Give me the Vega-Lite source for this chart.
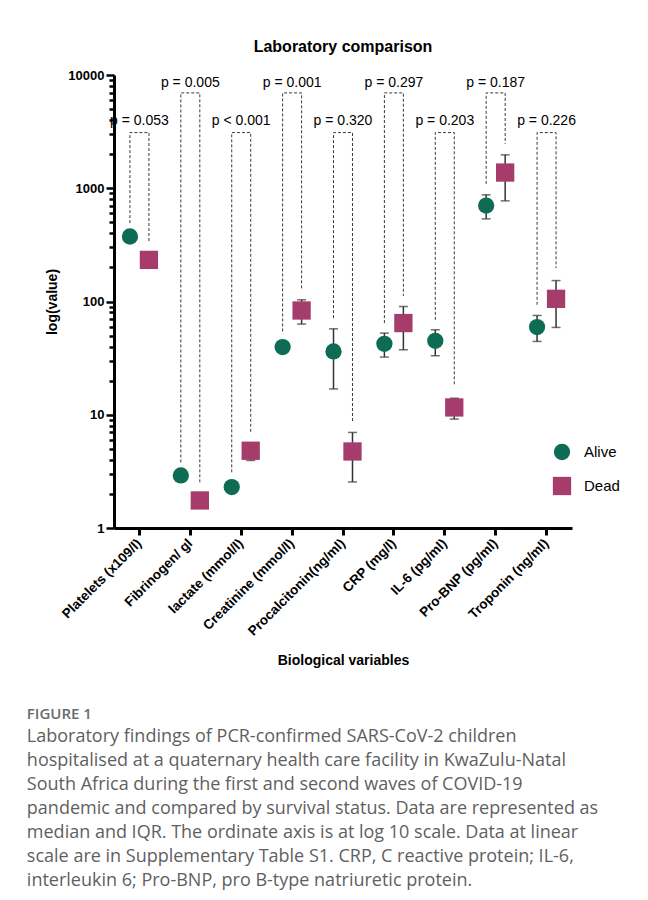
{
  "$schema": "https://vega.github.io/schema/vega-lite/v6.json",
  "padding": {"left": 26, "top": 39, "right": 5, "bottom": 5},
  "background": "white",
  "config": {"view": {"stroke": null}, "font": "Liberation Sans"},
  "title": {
    "text": "FIGURE 1",
    "subtitle": [
      "Laboratory findings of PCR-confirmed SARS-CoV-2 children",
      "hospitalised at a quaternary health care facility in KwaZulu-Natal",
      "South Africa during the first and second waves of COVID-19",
      "pandemic and compared by survival status. Data are represented as",
      "median and IQR. The ordinate axis is at log 10 scale. Data at linear",
      "scale are in Supplementary Table S1. CRP, C reactive protein; IL-6,",
      "interleukin 6; Pro-BNP, pro B-type natriuretic protein."
    ],
    "orient": "bottom",
    "anchor": "start",
    "frame": "bounds",
    "dx": -19,
    "offset": 39,
    "font": "Open Sans",
    "fontSize": 15,
    "fontWeight": 600,
    "color": "#6b6b6b",
    "subtitleFont": "Open Sans",
    "subtitleFontSize": 18,
    "subtitleColor": "#5f5f5f",
    "subtitleLineHeight": 24,
    "subtitlePadding": 6
  },
  "datasets": {
    "points": [
      {"c": "Platelets (x109/l)", "s": "Alive", "v": 375},
      {"c": "Platelets (x109/l)", "s": "Dead", "v": 233},
      {"c": "Fibrinogen/ gl", "s": "Alive", "v": 2.91},
      {"c": "Fibrinogen/ gl", "s": "Dead", "v": 1.75},
      {"c": "lactate (mmol/l)", "s": "Alive", "v": 2.3},
      {"c": "lactate (mmol/l)", "s": "Dead", "v": 4.81},
      {"c": "Creatinine (mmol/l)", "s": "Alive", "v": 39.6},
      {"c": "Creatinine (mmol/l)", "s": "Dead", "v": 83.3},
      {"c": "Procalcitonin(ng/ml)", "s": "Alive", "v": 36.2},
      {"c": "Procalcitonin(ng/ml)", "s": "Dead", "v": 4.74},
      {"c": "CRP (mg/l)", "s": "Alive", "v": 42.3},
      {"c": "CRP (mg/l)", "s": "Dead", "v": 64.5},
      {"c": "IL-6 (pg/ml)", "s": "Alive", "v": 45},
      {"c": "IL-6 (pg/ml)", "s": "Dead", "v": 11.6},
      {"c": "Pro-BNP (pg/ml)", "s": "Alive", "v": 703},
      {"c": "Pro-BNP (pg/ml)", "s": "Dead", "v": 1376},
      {"c": "Troponin (ng/ml)", "s": "Alive", "v": 59.4},
      {"c": "Troponin (ng/ml)", "s": "Dead", "v": 105.6}
    ],
    "iqr": [
      {"c": "lactate (mmol/l)", "s": "Dead", "lo": 3.95, "hi": 4.9},
      {"c": "Creatinine (mmol/l)", "s": "Dead", "lo": 63.2, "hi": 103.5},
      {"c": "Procalcitonin(ng/ml)", "s": "Alive", "lo": 16.9, "hi": 57.4},
      {"c": "Procalcitonin(ng/ml)", "s": "Dead", "lo": 2.55, "hi": 6.98},
      {"c": "CRP (mg/l)", "s": "Alive", "lo": 32.3, "hi": 52.6},
      {"c": "CRP (mg/l)", "s": "Dead", "lo": 37.5, "hi": 90.3},
      {"c": "IL-6 (pg/ml)", "s": "Alive", "lo": 33.2, "hi": 56.3},
      {"c": "IL-6 (pg/ml)", "s": "Dead", "lo": 9.16, "hi": 14.0},
      {"c": "Pro-BNP (pg/ml)", "s": "Alive", "lo": 537, "hi": 875},
      {"c": "Pro-BNP (pg/ml)", "s": "Dead", "lo": 774, "hi": 1972},
      {"c": "Troponin (ng/ml)", "s": "Alive", "lo": 44.4, "hi": 75.3},
      {"c": "Troponin (ng/ml)", "s": "Dead", "lo": 59, "hi": 153}
    ],
    "brackets": [
      {"c": "Platelets (x109/l)", "s": "Alive", "v": 492, "k": 0},
      {"c": "Platelets (x109/l)", "s": "Alive", "v": 3102, "k": 1},
      {"c": "Platelets (x109/l)", "s": "Dead", "v": 3102, "k": 2},
      {"c": "Platelets (x109/l)", "s": "Dead", "v": 336, "k": 3},
      {"c": "Fibrinogen/ gl", "s": "Alive", "v": 3.79, "k": 0},
      {"c": "Fibrinogen/ gl", "s": "Alive", "v": 6950, "k": 1},
      {"c": "Fibrinogen/ gl", "s": "Dead", "v": 6950, "k": 2},
      {"c": "Fibrinogen/ gl", "s": "Dead", "v": 2.46, "k": 3},
      {"c": "lactate (mmol/l)", "s": "Alive", "v": 3.1, "k": 0},
      {"c": "lactate (mmol/l)", "s": "Alive", "v": 3102, "k": 1},
      {"c": "lactate (mmol/l)", "s": "Dead", "v": 3102, "k": 2},
      {"c": "lactate (mmol/l)", "s": "Dead", "v": 6.98, "k": 3},
      {"c": "Creatinine (mmol/l)", "s": "Alive", "v": 54.4, "k": 0},
      {"c": "Creatinine (mmol/l)", "s": "Alive", "v": 6950, "k": 1},
      {"c": "Creatinine (mmol/l)", "s": "Dead", "v": 6950, "k": 2},
      {"c": "Creatinine (mmol/l)", "s": "Dead", "v": 128.7, "k": 3},
      {"c": "Procalcitonin(ng/ml)", "s": "Alive", "v": 71.3, "k": 0},
      {"c": "Procalcitonin(ng/ml)", "s": "Alive", "v": 3102, "k": 1},
      {"c": "Procalcitonin(ng/ml)", "s": "Dead", "v": 3102, "k": 2},
      {"c": "Procalcitonin(ng/ml)", "s": "Dead", "v": 8.73, "k": 3},
      {"c": "CRP (mg/l)", "s": "Alive", "v": 64.5, "k": 0},
      {"c": "CRP (mg/l)", "s": "Alive", "v": 6950, "k": 1},
      {"c": "CRP (mg/l)", "s": "Dead", "v": 6950, "k": 2},
      {"c": "CRP (mg/l)", "s": "Dead", "v": 112, "k": 3},
      {"c": "IL-6 (pg/ml)", "s": "Alive", "v": 68.9, "k": 0},
      {"c": "IL-6 (pg/ml)", "s": "Alive", "v": 3102, "k": 1},
      {"c": "IL-6 (pg/ml)", "s": "Dead", "v": 3102, "k": 2},
      {"c": "IL-6 (pg/ml)", "s": "Dead", "v": 17.8, "k": 3},
      {"c": "Pro-BNP (pg/ml)", "s": "Alive", "v": 1094, "k": 0},
      {"c": "Pro-BNP (pg/ml)", "s": "Alive", "v": 6950, "k": 1},
      {"c": "Pro-BNP (pg/ml)", "s": "Dead", "v": 6950, "k": 2},
      {"c": "Pro-BNP (pg/ml)", "s": "Dead", "v": 2466, "k": 3},
      {"c": "Troponin (ng/ml)", "s": "Alive", "v": 93.5, "k": 0},
      {"c": "Troponin (ng/ml)", "s": "Alive", "v": 3102, "k": 1},
      {"c": "Troponin (ng/ml)", "s": "Dead", "v": 3102, "k": 2},
      {"c": "Troponin (ng/ml)", "s": "Dead", "v": 197, "k": 3}
    ],
    "pvals": [
      {"c": "Platelets (x109/l)", "p": "p = 0.053", "v": 3900},
      {"c": "Fibrinogen/ gl", "p": "p = 0.005", "v": 8520},
      {"c": "lactate (mmol/l)", "p": "p < 0.001", "v": 3900},
      {"c": "Creatinine (mmol/l)", "p": "p = 0.001", "v": 8520},
      {"c": "Procalcitonin(ng/ml)", "p": "p = 0.320", "v": 3900},
      {"c": "CRP (mg/l)", "p": "p = 0.297", "v": 8520},
      {"c": "IL-6 (pg/ml)", "p": "p = 0.203", "v": 3900},
      {"c": "Pro-BNP (pg/ml)", "p": "p = 0.187", "v": 8520},
      {"c": "Troponin (ng/ml)", "p": "p = 0.226", "v": 3900}
    ]
  },
  "vconcat": [
    {
      "width": 458,
      "height": 453,
      "title": {
        "text": "Laboratory comparison",
        "fontSize": 16,
        "fontWeight": "bold",
        "font": "Liberation Sans",
        "color": "black",
        "anchor": "middle",
        "frame": "group",
        "offset": 14
      },
      "layer": [
        {
          "data": {"name": "brackets"},
          "mark": {"type": "line", "strokeDash": [3, 2], "strokeWidth": 1, "color": "#3a3a3a"},
          "encoding": {
            "x": {
              "field": "c", "type": "nominal",
              "sort": ["Platelets (x109/l)", "Fibrinogen/ gl", "lactate (mmol/l)", "Creatinine (mmol/l)", "Procalcitonin(ng/ml)", "CRP (mg/l)", "IL-6 (pg/ml)", "Pro-BNP (pg/ml)", "Troponin (ng/ml)"],
              "scale": {"paddingInner": 0, "paddingOuter": 0},
              "axis": {
                "title": "Biological variables",
                "titleFontSize": 14, "titleFontWeight": "bold", "titleColor": "black", "titlePadding": 16,
                "labelAngle": -45, "labelFontSize": 13.5, "labelFontWeight": "bold", "labelColor": "black",
                "labelAlign": "right", "labelBaseline": "middle",
                "labelPadding": 6, "labelLimit": 300,
                "tickSize": 7, "tickWidth": 3, "tickColor": "black",
                "domainWidth": 3, "domainColor": "black", "grid": false
              }
            },
            "xOffset": {"field": "s", "type": "nominal", "scale": {"domain": ["Alive", "Dead"], "paddingInner": 0, "paddingOuter": 0.34}},
            "y": {
              "field": "v", "type": "quantitative",
              "scale": {"type": "log", "domain": [1, 10000]},
              "axis": {
                "title": "log(value)",
                "titleFontSize": 14, "titleFontWeight": "bold", "titleColor": "black", "titlePadding": 8,
                "values": [1,2,3,4,5,6,7,8,9,10,20,30,40,50,60,70,80,90,100,200,300,400,500,600,700,800,900,1000,2000,3000,4000,5000,6000,7000,8000,9000,10000],
                "format": "d",
                "labelExpr": "indexof([1,10,100,1000,10000], datum.value) >= 0 ? datum.label : ''",
                "labelFontSize": 13, "labelFontWeight": "bold", "labelColor": "black", "labelPadding": 2,
                "tickSize": {"condition": {"test": "indexof([1,10,100,1000,10000], datum.value) >= 0", "value": 8}, "value": 5},
                "tickWidth": 2.5, "tickColor": "black",
                "domainWidth": 3, "domainColor": "black", "grid": false
              }
            },
            "detail": {"field": "c"},
            "order": {"field": "k", "type": "quantitative"}
          }
        },
        {
          "data": {"name": "pvals"},
          "mark": {"type": "text", "fontSize": 14, "font": "Liberation Sans", "color": "black", "baseline": "middle"},
          "encoding": {
            "x": {"field": "c", "type": "nominal", "sort": ["Platelets (x109/l)", "Fibrinogen/ gl", "lactate (mmol/l)", "Creatinine (mmol/l)", "Procalcitonin(ng/ml)", "CRP (mg/l)", "IL-6 (pg/ml)", "Pro-BNP (pg/ml)", "Troponin (ng/ml)"]},
            "y": {"field": "v", "type": "quantitative"},
            "text": {"field": "p"}
          }
        },
        {
          "data": {"name": "iqr"},
          "mark": {"type": "rule", "strokeWidth": 1.5, "color": "#333333"},
          "encoding": {
            "x": {"field": "c", "type": "nominal", "sort": ["Platelets (x109/l)", "Fibrinogen/ gl", "lactate (mmol/l)", "Creatinine (mmol/l)", "Procalcitonin(ng/ml)", "CRP (mg/l)", "IL-6 (pg/ml)", "Pro-BNP (pg/ml)", "Troponin (ng/ml)"]},
            "xOffset": {"field": "s", "type": "nominal"},
            "y": {"field": "lo", "type": "quantitative"},
            "y2": {"field": "hi"}
          }
        },
        {
          "data": {"name": "iqr"},
          "mark": {"type": "tick", "thickness": 1.5, "size": 9, "color": "#333333"},
          "encoding": {
            "x": {"field": "c", "type": "nominal", "sort": ["Platelets (x109/l)", "Fibrinogen/ gl", "lactate (mmol/l)", "Creatinine (mmol/l)", "Procalcitonin(ng/ml)", "CRP (mg/l)", "IL-6 (pg/ml)", "Pro-BNP (pg/ml)", "Troponin (ng/ml)"]},
            "xOffset": {"field": "s", "type": "nominal"},
            "y": {"field": "lo", "type": "quantitative"}
          }
        },
        {
          "data": {"name": "iqr"},
          "mark": {"type": "tick", "thickness": 1.5, "size": 9, "color": "#333333"},
          "encoding": {
            "x": {"field": "c", "type": "nominal", "sort": ["Platelets (x109/l)", "Fibrinogen/ gl", "lactate (mmol/l)", "Creatinine (mmol/l)", "Procalcitonin(ng/ml)", "CRP (mg/l)", "IL-6 (pg/ml)", "Pro-BNP (pg/ml)", "Troponin (ng/ml)"]},
            "xOffset": {"field": "s", "type": "nominal"},
            "y": {"field": "hi", "type": "quantitative"}
          }
        },
        {
          "data": {"name": "points"},
          "mark": {"type": "point", "filled": true, "opacity": 1},
          "encoding": {
            "x": {"field": "c", "type": "nominal", "sort": ["Platelets (x109/l)", "Fibrinogen/ gl", "lactate (mmol/l)", "Creatinine (mmol/l)", "Procalcitonin(ng/ml)", "CRP (mg/l)", "IL-6 (pg/ml)", "Pro-BNP (pg/ml)", "Troponin (ng/ml)"]},
            "xOffset": {"field": "s", "type": "nominal"},
            "y": {"field": "v", "type": "quantitative"},
            "color": {"field": "s", "type": "nominal", "scale": {"domain": ["Alive", "Dead"], "range": ["#0e6b54", "#a53c6c"]}, "legend": {"title": null, "orient": "none", "legendX": 438, "legendY": 368, "labelFontSize": 15, "labelFont": "Liberation Sans", "labelColor": "black", "rowPadding": 15, "labelOffset": 12}},
            "shape": {"field": "s", "type": "nominal", "scale": {"domain": ["Alive", "Dead"], "range": ["circle", "square"]}},
            "size": {"field": "s", "type": "nominal", "scale": {"domain": ["Alive", "Dead"], "range": [265, 335]}}
          }
        }
      ]
    }
  ]
}
